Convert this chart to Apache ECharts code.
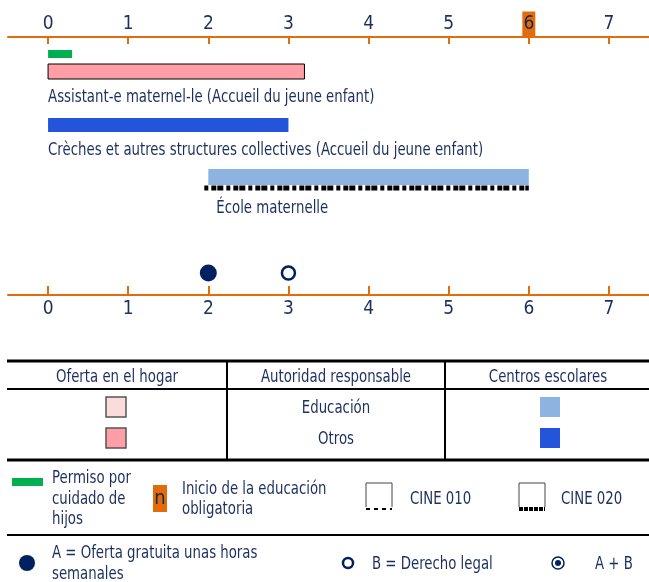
<!DOCTYPE html>
<html>
<head>
<meta charset="utf-8">
<script src="https://cdn.jsdelivr.net/npm/echarts@6/dist/echarts.min.js"></script>
<style>
  html, body { margin: 0; padding: 0; background: #fff; }
  #main { width: 649px; height: 582px; }
</style>
</head>
<body>
<div id="main"></div>
<script>
// ages shown on both axes
var ages = [0, 1, 2, 3, 4, 5, 6, 7];
var compulsoryAge = 6;

// provision bars (years of age)
var barNames = [
  "",
  "Assistant-e maternel-le (Accueil du jeune enfant)",
  "Crèches et autres structures collectives (Accueil du jeune enfant)",
  "École maternelle"
];
var barStart = [0, 0, 0, 2];
var barEnd = [0.3, 3.2, 3, 6];
var barColor = ["#00b050", "#ff9ea5", "#2454da", "#8db3e2"];
var barCine = [null, null, null, "020"];

// guarantees
var freeHoursAge = [2];
var legalRightAge = [3];

var FONT = "'DejaVu Sans Condensed', 'Liberation Sans', sans-serif";
var TXT = "#1d2f5f";
var NAVY = "#002060";
var ORANGE = "#e36c0a";
var SX = 0.87; // squeeze text to look like a narrow face

// row layout inside the grid (px from grid top)
var rowMid = [17, 34.5, 88, 140];
var rowH = [8, 15, 14, 16];
var labelMid = [0, 61, 114, 172];
var labelDx = [0, 0, 0, 8];
var dotRow = 236;

var myChart = echarts.init(document.getElementById("main"));

var barData = barStart.map(function (s, i) { return [s, barEnd[i], i]; });

function axisBase(pos) {
  var top = pos === "top";
  return {
    type: "value",
    position: pos,
    min: -0.5,
    max: 7.5,
    axisLine: { show: true, lineStyle: { color: ORANGE, width: 2 } },
    axisTick: { show: true, inside: true, length: top ? 7 : 9, lineStyle: { color: ORANGE, width: 2 }, customValues: ages },
    axisLabel: {
      customValues: ages,
      margin: top ? 3 : 5,
      color: TXT,
      fontFamily: FONT,
      fontSize: 19,
      formatter: function (v) {
        if (!top) return String(v);
        return v === compulsoryAge ? "{c|" + v + "}" : "{n|" + v + "}";
      },
      rich: {
        n: { color: TXT, fontFamily: FONT, fontSize: 19, lineHeight: 19, padding: [3, 0, 4, 0] },
        c: { backgroundColor: ORANGE, color: "#1a2750", fontFamily: FONT, fontSize: 19, lineHeight: 19, padding: [3, 0, 4, 0], width: 13, align: "center" }
      }
    },
    splitLine: { show: false }
  };
}

function hline(y, w) {
  return { type: "line", shape: { x1: 7, y1: y, x2: 649, y2: y }, style: { stroke: "#000", lineWidth: w } };
}
function vline(x, y1, y2) {
  return { type: "line", shape: { x1: x, y1: y1, x2: x, y2: y2 }, style: { stroke: "#000", lineWidth: 2 } };
}
function txt(t, x, y, align) {
  return {
    type: "text", x: x, y: y + 1.5, scaleX: SX,
    style: { text: t, fill: TXT, font: "17px " + FONT, textAlign: align || "left", textVerticalAlign: "middle" }
  };
}
function sq(x, y, fill, stroke) {
  return { type: "rect", shape: { x: x, y: y, width: 20, height: 20 }, style: { fill: fill, stroke: stroke || null, lineWidth: stroke ? 1.5 : 0 } };
}
function cineIcon(x, dash, w) {
  return {
    type: "group", x: x, y: 483, children: [
      { type: "polyline", shape: { points: [[0, 24], [0, 0], [26, 0], [26, 24]] }, style: { stroke: "#444", lineWidth: 1, fill: null } },
      { type: "line", shape: { x1: 0, y1: 26, x2: 26, y2: 26 }, style: { stroke: "#000", lineWidth: w, lineDash: dash } }
    ]
  };
}

var option = {
  animation: false,
  grid: { left: 8, right: 0, top: 37, bottom: 287 },
  xAxis: [axisBase("top"), axisBase("bottom")],
  yAxis: { type: "value", min: 0, max: 258, inverse: true, show: false },
  series: [
    {
      type: "custom",
      clip: false,
      data: barData,
      renderItem: function (params, api) {
        var i = api.value(2);
        var x0 = api.coord([api.value(0), 0])[0];
        var x1 = api.coord([api.value(1), 0])[0];
        var yc = api.coord([0, rowMid[i]])[1];
        var kids = [{
          type: "rect",
          shape: { x: x0, y: yc - rowH[i] / 2, width: x1 - x0, height: rowH[i] },
          style: { fill: barColor[i], stroke: i === 1 ? "#000" : null, lineWidth: i === 1 ? 1 : 0 }
        }];
        if (barNames[i]) {
          kids.push({
            type: "text",
            x: x0 + labelDx[i],
            y: api.coord([0, labelMid[i]])[1],
            scaleX: SX,
            style: { text: barNames[i], fill: TXT, font: "17px " + FONT, textVerticalAlign: "middle" }
          });
        }
        if (barCine[i]) {
          var yd = yc + rowH[i] / 2 + 3;
          kids.push({
            type: "line",
            shape: { x1: x0 - 4, y1: yd, x2: x1, y2: yd },
            style: { stroke: "#000", lineWidth: 5, lineDash: [4, 3, 5, 1, 6, 3] }
          });
        }
        return { type: "group", children: kids };
      }
    },
    {
      type: "scatter",
      symbol: "circle",
      symbolSize: 17,
      itemStyle: { color: NAVY, opacity: 1 },
      data: freeHoursAge.map(function (a) { return [a, dotRow]; })
    },
    {
      type: "scatter",
      symbol: "circle",
      symbolSize: 13,
      itemStyle: { color: "#fff", borderColor: NAVY, borderWidth: 2.5, opacity: 1 },
      data: legalRightAge.map(function (a) { return [a, dotRow]; })
    }
  ],
  graphic: [
    // table
    hline(361, 3), hline(389, 2), hline(460, 3), hline(535, 2),
    vline(227, 360, 460), vline(445, 360, 460),
    txt("Oferta en el hogar", 117, 376, "center"),
    txt("Autoridad responsable", 336, 376, "center"),
    txt("Centros escolares", 548, 376, "center"),
    txt("Educación", 336, 407, "center"),
    txt("Otros", 336, 438, "center"),
    sq(106, 397, "#fbdcdc", "#555"),
    sq(106, 428, "#ff9ea5", "#555"),
    sq(540, 397, "#8db3e2"),
    sq(540, 428, "#2454da"),
    // legend row 1
    { type: "rect", shape: { x: 12, y: 478, width: 31, height: 8 }, style: { fill: "#00b050" } },
    txt("Permiso por", 52, 477), txt("cuidado de", 52, 498), txt("hijos", 52, 518),
    { type: "rect", shape: { x: 153, y: 485, width: 14, height: 27 }, style: { fill: ORANGE } },
    { type: "text", x: 160, y: 499, style: { text: "n", fill: "#1a2750", font: "20px " + FONT, textAlign: "center", textVerticalAlign: "middle" } },
    txt("Inicio de la educación", 182, 488), txt("obligatoria", 182, 508),
    cineIcon(366, [4, 4], 2), txt("CINE 010", 410, 498),
    cineIcon(519, [4, 1], 4), txt("CINE 020", 561, 498),
    // legend row 2
    { type: "circle", shape: { cx: 27, cy: 563, r: 8 }, style: { fill: NAVY } },
    txt("A = Oferta gratuita unas horas", 52, 552), txt("semanales", 52, 573),
    { type: "circle", shape: { cx: 348, cy: 563, r: 5 }, style: { fill: "#fff", stroke: NAVY, lineWidth: 2.5 } },
    txt("B = Derecho legal", 372, 563),
    { type: "circle", shape: { cx: 558, cy: 563, r: 6 }, style: { fill: "#fff", stroke: NAVY, lineWidth: 1.5 } },
    { type: "circle", shape: { cx: 558, cy: 563, r: 3 }, style: { fill: NAVY } },
    txt("A + B", 595, 563)
  ]
};
myChart.setOption(option);
</script>
</body>
</html>
